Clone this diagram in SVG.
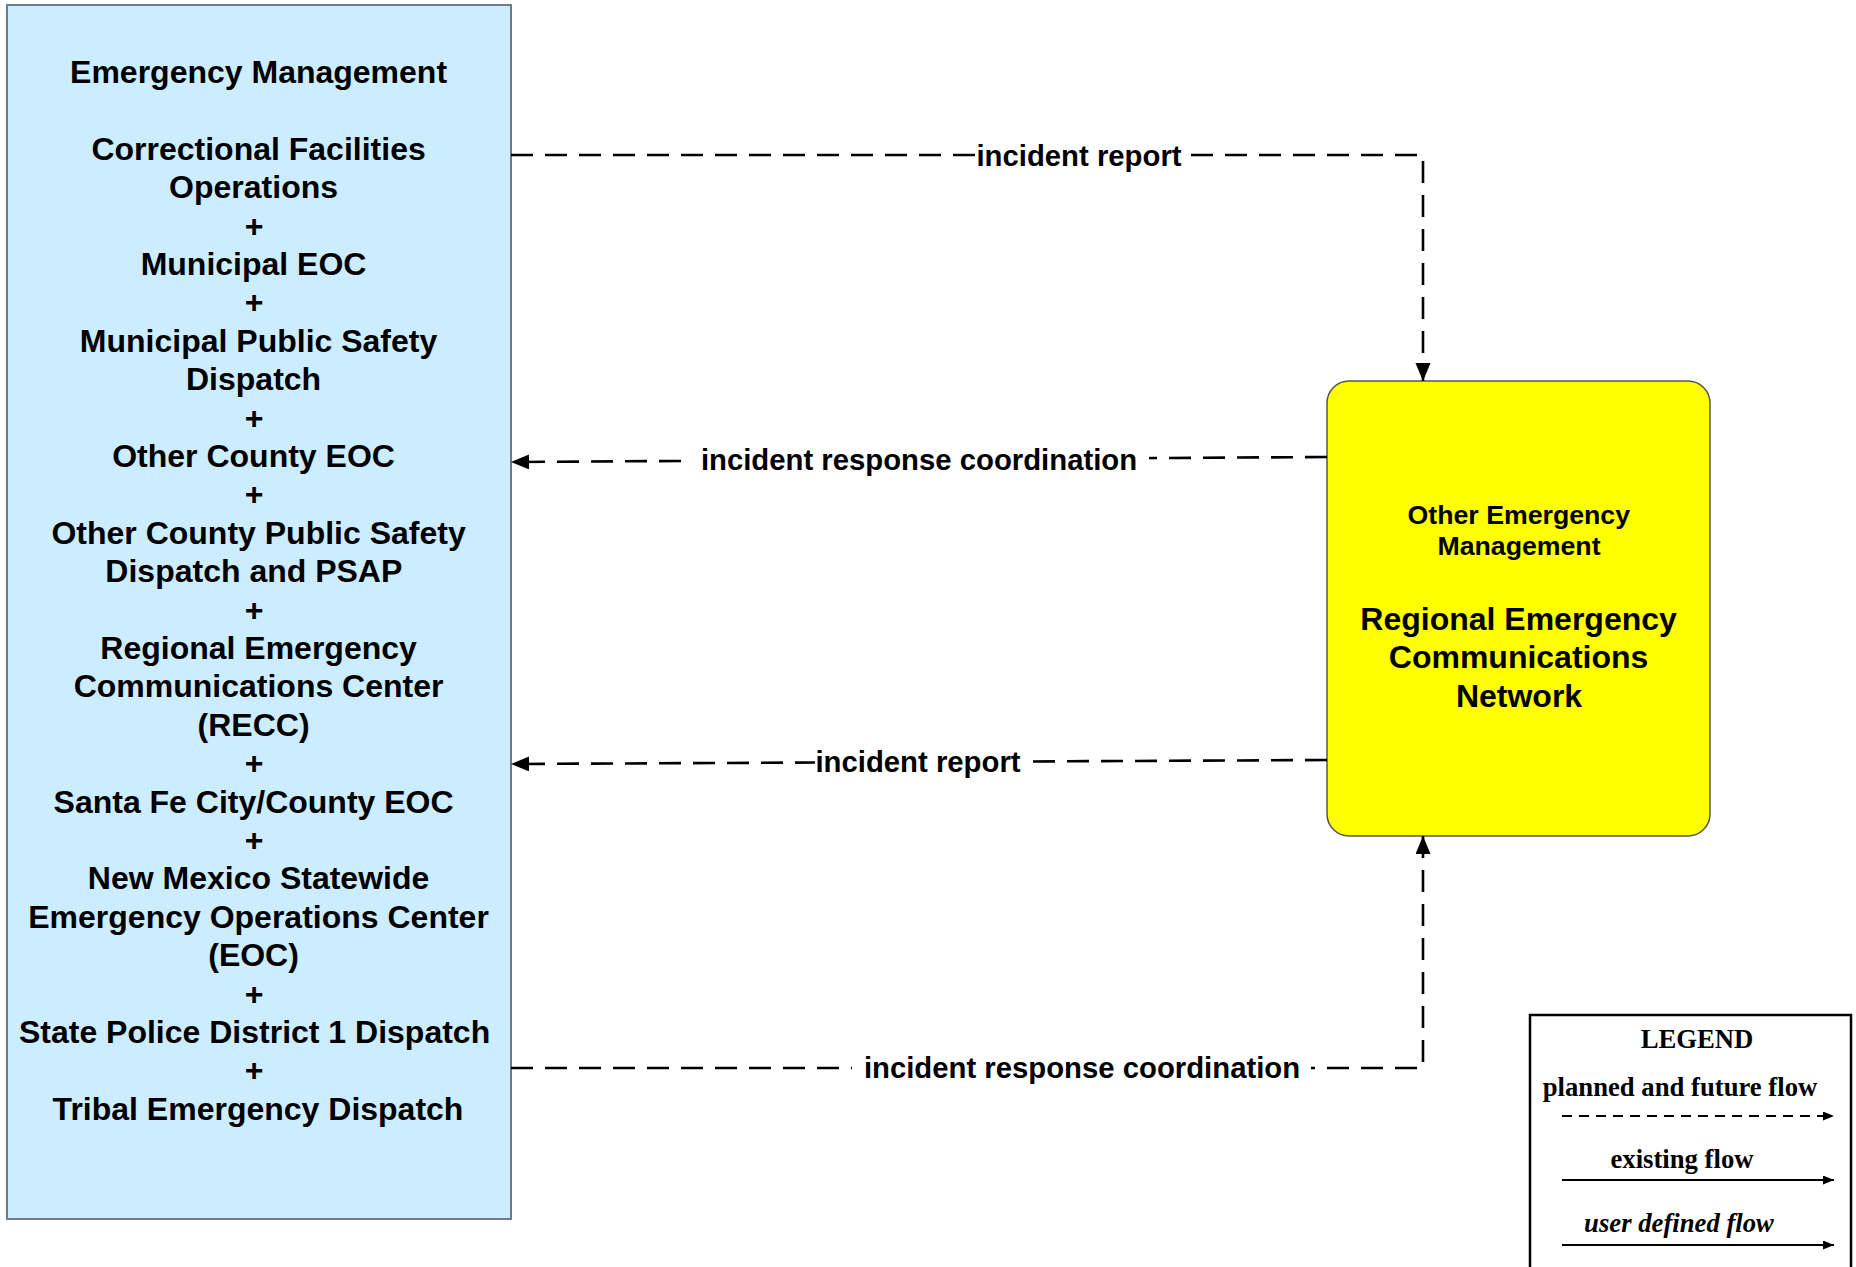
<svg xmlns="http://www.w3.org/2000/svg" width="1856" height="1267" viewBox="0 0 1856 1267">
<style>
.node-text{font-family:"Liberation Sans",Arial,sans-serif;font-weight:bold;fill:#000;text-anchor:middle}
.lbl{font-family:"Liberation Sans",Arial,sans-serif;font-weight:bold;font-size:29.3px;fill:#000;text-anchor:middle}
.flow{fill:none;stroke:#000;stroke-width:2.6;stroke-dasharray:22 12}
.lblbg{fill:#fff}
.leg{font-family:"Liberation Serif","Times New Roman",serif;font-weight:bold;fill:#000;text-anchor:middle;font-size:26.7px}
</style>
<defs>
<marker id="arr" markerUnits="userSpaceOnUse" markerWidth="20" markerHeight="16" refX="18" refY="7.5" orient="auto">
<path d="M0,0 L18,7.5 L0,15 z" fill="#000"/>
</marker>
<marker id="larr" markerUnits="userSpaceOnUse" markerWidth="12" markerHeight="10" refX="11" refY="4.5" orient="auto">
<path d="M0,0 L11,4.5 L0,9 z" fill="#000"/>
</marker>
</defs>
<rect width="1856" height="1267" fill="#fff"/>

<g id="node-emergency-management">
<rect x="7" y="5" width="504" height="1214" fill="#CCECFF" stroke="#6E7B88" stroke-width="2"/>
<text class="node-text" font-size="32">
<tspan x="263" y="83">Emergency Management</tspan>
<tspan x="263" y="159.8">Correctional Facilities</tspan>
<tspan x="258" y="198.2">Operations</tspan>
<tspan x="258.5" y="236.6">+</tspan>
<tspan x="258" y="275">Municipal EOC</tspan>
<tspan x="258.5" y="313.4">+</tspan>
<tspan x="263" y="351.8">Municipal Public Safety</tspan>
<tspan x="258" y="390.2">Dispatch</tspan>
<tspan x="258.5" y="428.6">+</tspan>
<tspan x="258" y="467">Other County EOC</tspan>
<tspan x="258.5" y="505.4">+</tspan>
<tspan x="263" y="543.8">Other County Public Safety</tspan>
<tspan x="258" y="582.2">Dispatch and PSAP</tspan>
<tspan x="258.5" y="620.6">+</tspan>
<tspan x="263" y="659">Regional Emergency</tspan>
<tspan x="263" y="697.4">Communications Center</tspan>
<tspan x="258" y="735.8">(RECC)</tspan>
<tspan x="258.5" y="774.2">+</tspan>
<tspan x="258" y="812.6">Santa Fe City/County EOC</tspan>
<tspan x="258.5" y="851">+</tspan>
<tspan x="263" y="889.4">New Mexico Statewide</tspan>
<tspan x="263" y="927.8">Emergency Operations Center</tspan>
<tspan x="258" y="966.2">(EOC)</tspan>
<tspan x="258.5" y="1004.6">+</tspan>
<tspan x="259" y="1043">State Police District 1 Dispatch</tspan>
<tspan x="258.5" y="1081.4">+</tspan>
<tspan x="258" y="1119.8">Tribal Emergency Dispatch</tspan>
</text>
</g>

<g id="node-other-emergency-management">
<rect x="1327" y="381" width="383" height="455" rx="22" ry="22" fill="#FFFF00" stroke="#555" stroke-width="1.5"/>
<text class="node-text" font-size="26.7">
<tspan x="1522.5" y="524">Other Emergency</tspan>
<tspan x="1519" y="555">Management</tspan>
</text>
<text class="node-text" font-size="32">
<tspan x="1523" y="630">Regional Emergency</tspan>
<tspan x="1523" y="668.4">Communications</tspan>
<tspan x="1519" y="706.8">Network</tspan>
</text>
</g>

<g id="connectors">
<path class="flow" d="M511,155 H1423 V381" marker-end="url(#arr)"/>
<rect class="lblbg" x="976" y="138" width="206" height="36"/>
<text class="lbl" x="1079" y="166">incident report</text>

<path class="flow" d="M1327,457 L511,462" marker-end="url(#arr)"/>
<rect class="lblbg" x="690" y="441" width="459" height="36"/>
<text class="lbl" x="919" y="470">incident response coordination</text>

<path class="flow" d="M1327,760 L511,764" marker-end="url(#arr)"/>
<rect class="lblbg" x="815" y="744" width="206" height="36"/>
<text class="lbl" x="918" y="772">incident report</text>

<path class="flow" d="M511,1068 H1423 V836" marker-end="url(#arr)"/>
<rect class="lblbg" x="852" y="1050" width="459" height="36"/>
<text class="lbl" x="1082" y="1078">incident response coordination</text>
</g>

<g id="legend">
<rect x="1530" y="1015" width="321" height="280" fill="#fff" stroke="#000" stroke-width="2.5"/>
<text class="leg" x="1697" y="1048">LEGEND</text>
<text class="leg" x="1680" y="1096">planned and future flow</text>
<line x1="1562" y1="1116" x2="1834" y2="1116" stroke="#000" stroke-width="2" stroke-dasharray="10 7" marker-end="url(#larr)"/>
<text class="leg" x="1682" y="1168">existing flow</text>
<line x1="1562" y1="1180" x2="1834" y2="1180" stroke="#000" stroke-width="2.2" marker-end="url(#larr)"/>
<text class="leg" x="1679" y="1232" font-style="italic">user defined flow</text>
<line x1="1562" y1="1245" x2="1834" y2="1245" stroke="#000" stroke-width="2.2" marker-end="url(#larr)"/>
</g>
</svg>
